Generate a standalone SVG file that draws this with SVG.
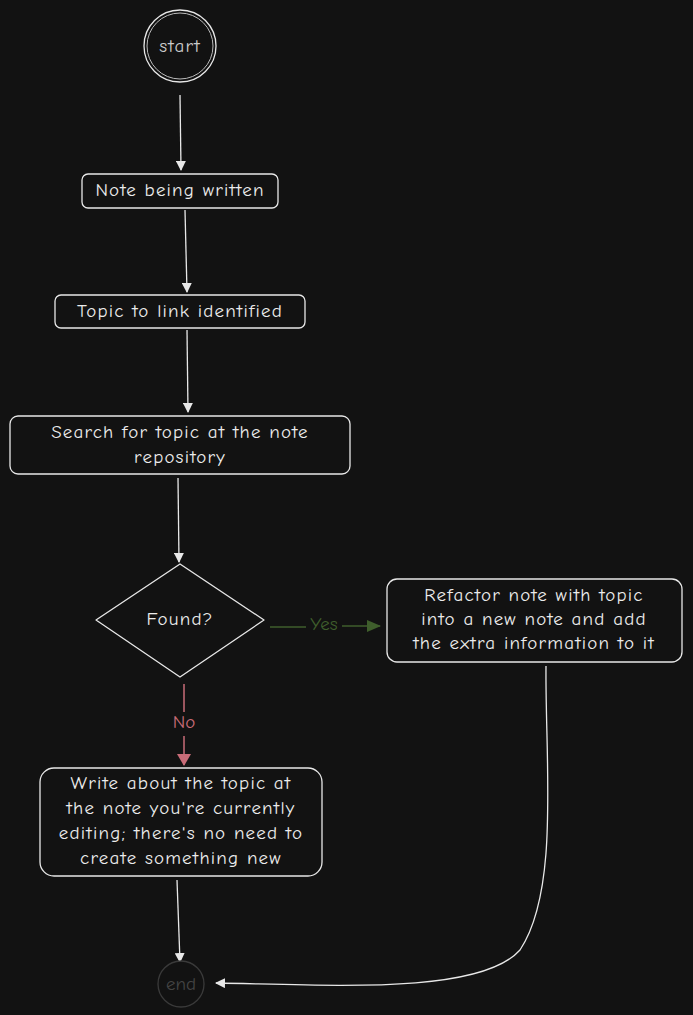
<svg xmlns="http://www.w3.org/2000/svg" width="693" height="1015" viewBox="0 0 693 1015">
<style>
.n{fill:#121212;stroke:#e8e8e8;stroke-width:1.3}
.t{font-family:"Comic Neue","Liberation Sans",sans-serif;font-size:19px;letter-spacing:1.2px;fill:#ececec;text-anchor:middle;dominant-baseline:central}
.c{fill:none;stroke:#e8e8e8;stroke-width:1.3}
</style>
<defs>
<marker id="aw" markerWidth="10" markerHeight="10" refX="9" refY="5" orient="auto" markerUnits="userSpaceOnUse" viewBox="0 0 10 10"><path d="M0,0L10,5L0,10z" fill="#e8e8e8"/></marker>
<marker id="ag" markerWidth="14" markerHeight="12" refX="13" refY="6" orient="auto" markerUnits="userSpaceOnUse" viewBox="0 0 14 12"><path d="M0,0L14,6L0,12z" fill="#3f5e2c"/></marker>
<marker id="ar" markerWidth="12" markerHeight="14" refX="11" refY="7" orient="auto" markerUnits="userSpaceOnUse" viewBox="0 0 12 14"><path d="M0,0L12,7L0,14z" fill="#c86c78"/></marker>
</defs>
<rect width="693" height="1015" fill="#121212"/>
<g id="connectors">
<path class="c" d="M180,95 L181,170" marker-end="url(#aw)"/>
<path class="c" d="M185,210 L187,292" marker-end="url(#aw)"/>
<path class="c" d="M187,330 L188,412" marker-end="url(#aw)"/>
<path class="c" d="M178,478 L179,562" marker-end="url(#aw)"/>
<path d="M270,627 L306,627 M342,626 L380,626" fill="none" stroke="#3f5e2c" stroke-width="1.5" marker-end="url(#ag)"/>
<text x="324" y="624" class="t" style="fill:#3f5e2c;letter-spacing:0">Yes</text>
<path d="M184,684 L184,712 M184,736 L184,765" fill="none" stroke="#c86c78" stroke-width="1.5" marker-end="url(#ar)"/>
<text x="184" y="722" class="t" style="fill:#c86c78;letter-spacing:0">No</text>
<path class="c" d="M177,880 L180,962" marker-end="url(#aw)"/>
<path class="c" d="M546,666 C545,760 560,890 520,950 C480,995 330,985 216,983" marker-end="url(#aw)"/>
</g>
<g id="start"><circle class="n" cx="180" cy="46" r="36" stroke="#bbb"/><circle cx="180" cy="46" r="33" fill="none" stroke="#bbb" stroke-width="1"/><text class="t" x="180" y="46" style="fill:#ccc">start</text></g>
<g id="n1"><rect class="n" x="82" y="174" width="196" height="34" rx="6"/><text class="t" x="180" y="190">Note being written</text></g>
<g id="n2"><rect class="n" x="55" y="295" width="250" height="33" rx="6"/><text class="t" x="180" y="311">Topic to link identified</text></g>
<g id="n3"><rect class="n" x="10" y="416" width="340" height="58" rx="8"/><text class="t" x="180" y="432">Search for topic at the note</text><text class="t" x="180" y="457">repository</text></g>
<g id="d"><path class="n" d="M180,564 L264,620 L180,677 L96,620 Z" stroke-linejoin="round"/><text class="t" x="180" y="619">Found?</text></g>
<g id="n4"><rect class="n" x="387" y="579" width="295" height="83" rx="10"/><text class="t" x="534" y="595">Refactor note with topic</text><text class="t" x="534" y="619">into a new note and add</text><text class="t" x="534" y="643">the extra information to it</text></g>
<g id="n5"><rect class="n" x="40" y="768" width="282" height="108" rx="14"/><text class="t" x="181" y="783">Write about the topic at</text><text class="t" x="181" y="808">the note you're currently</text><text class="t" x="181" y="833">editing; there's no need to</text><text class="t" x="181" y="858">create something new</text></g>
<g id="end"><circle cx="181" cy="984" r="23" fill="#121212" stroke="#3a3a3a" stroke-width="1.3"/><text class="t" x="181" y="984" style="fill:#444;letter-spacing:0">end</text></g>
</svg>
